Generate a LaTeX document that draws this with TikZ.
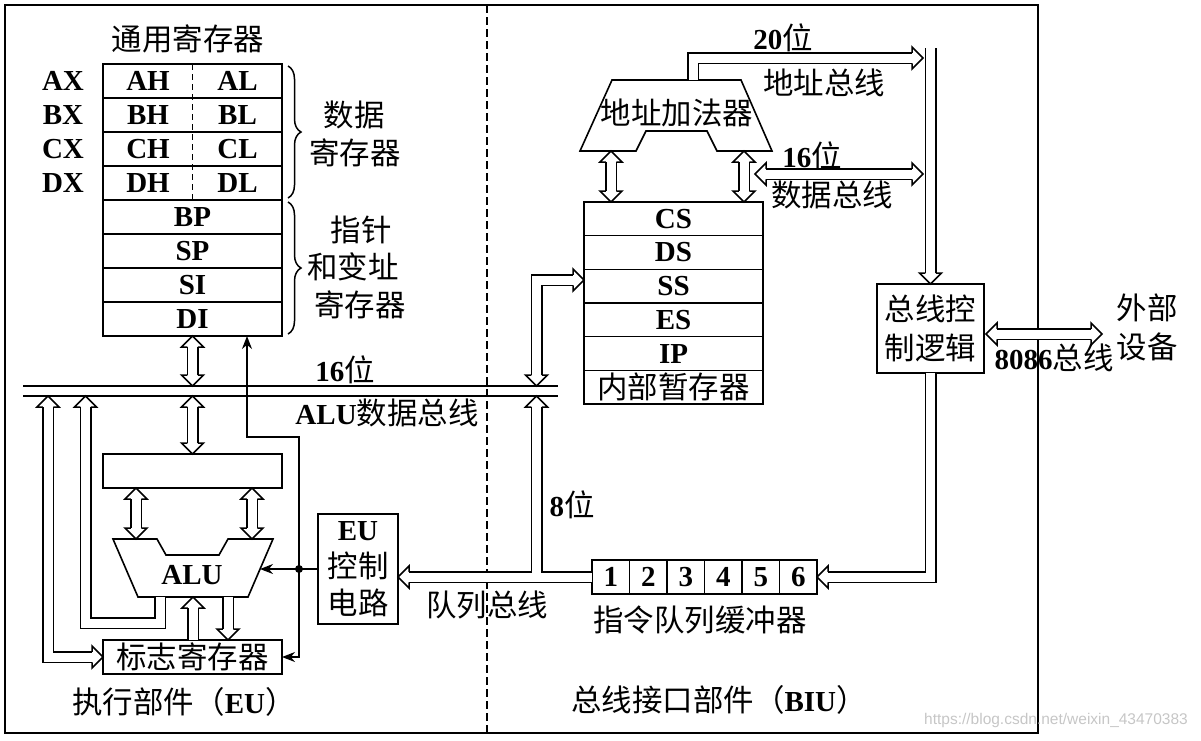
\documentclass[tikz,border=0pt]{standalone}
\usepackage{fontspec}
\setmainfont{Liberation Serif}
\newfontfamily\cjk[Scale=1.05]{Noto Sans CJK SC}
\newfontfamily\wmfont{Liberation Sans}
\usetikzlibrary{arrows.meta,decorations.pathreplacing,calc}
\newcommand{\fs}{\fontsize{29}{37}\selectfont}
\newcommand{\myzh}[1]{{\cjk\mdseries #1}}
\newcommand{\myen}[1]{{\bfseries #1}}
\newcommand{\fatboth}[4]{%
  \draw[pipe, shorten <=11pt, shorten >=11pt] #1 -- #2;
  \pic[rotate=#3] at #1 {fathead};
  \pic[rotate=#4] at #2 {fathead};}
\begin{document}
\begin{tikzpicture}[x=1pt,y=-1pt,
  every node/.style={font=\fs, inner sep=0pt, outer sep=0pt},
  box/.style={draw, line width=1.6pt},
  reg/.style={box, minimum width=179pt, minimum height=34pt},
  pipe/.style={draw, double=white, double distance=9pt, line width=1.5pt, line join=miter},
  thinarrow/.style={line width=1.5pt, -{Stealth[length=13pt,width=10pt]}},
  fathead/.pic={\draw[line width=1.5pt, line join=miter] (-11,5.25) -- (-11,11) -- (0,0) -- (-11,-11) -- (-11,-5.25);},
]
\useasboundingbox (0,0) rectangle (1201,740);
% frame and divider
\draw[line width=1.3pt] (5,5) rectangle (1038,733);
\draw[line width=1.3pt, dash pattern=on 8pt off 4pt] (487,5) -- (487,733);

% ===== EU =====
\node (gtitle) at (188,39) {\myzh{通用寄存器}};
\node[reg] (ax) at (192.5,81) {};
\node[reg] (bx) at (192.5,115) {};
\node[reg] (cx) at (192.5,149) {};
\node[reg] (dx) at (192.5,183) {};
\node[reg] (bp) at (192.5,217) {\myen{BP}};
\node[reg] (sp) at (192.5,251) {\myen{SP}};
\node[reg] (si) at (192.5,285) {\myen{SI}};
\node[reg] (di) at (192.5,319) {\myen{DI}};
\draw[line width=1.3pt, dash pattern=on 6pt off 4pt] (ax.north) -- (dx.south);
\node (ah) at (148,81) {\myen{AH}};  \node (al) at (237.5,81) {\myen{AL}};
\node (bh) at (148,115) {\myen{BH}}; \node (bl) at (237.5,115) {\myen{BL}};
\node (ch) at (148,149) {\myen{CH}}; \node (cl) at (237.5,149) {\myen{CL}};
\node (dh) at (148,183) {\myen{DH}}; \node (dl) at (237.5,183) {\myen{DL}};
\node (axl) at (63,81) {\myen{AX}};
\node (bxl) at (63,115) {\myen{BX}};
\node (cxl) at (63,149) {\myen{CX}};
\node (dxl) at (63,183) {\myen{DX}};
\draw[line width=1.5pt, decorate, decoration={brace, amplitude=13pt}] (288,66) -- (288,198);
\draw[line width=1.5pt, decorate, decoration={brace, amplitude=13pt}] (288,202) -- (288,334);
\node (sj1) at (354,115) {\myzh{数据}};
\node (sj2) at (355,153) {\myzh{寄存器}};
\node (zz1) at (361,230) {\myzh{指针}};
\node (zz2) at (353,267) {\myzh{和变址}};
\node (zz3) at (360,305) {\myzh{寄存器}};

% ALU bus
\coordinate (busL1) at (23,386); \coordinate (busR1) at (558,386);
\coordinate (busL2) at (23,396); \coordinate (busR2) at (558,396);
\draw[line width=1.5pt] (busL1) -- (busR1);
\draw[line width=1.5pt] (busL2) -- (busR2);
\node (b16) at (345,370) {\myen{16}\myzh{位}};
\node (alubus) at (387,413) {\myen{ALU}\myzh{数据总线}};

\node[reg] (tmpr) at (192.5,471) {};
\draw[box, line join=miter] (113,539) -- (157,539) -- (166,555) -- (219,555) -- (228,539) -- (273,539) -- (248,597) -- (138,597) -- cycle;
\node (alu) at (192,575) {\myen{ALU}};
\node[reg] (flag) at (192.5,657) {\myzh{标志寄存器}};
\node[box, minimum width=80pt, minimum height=110pt, align=center] (euc) at (358,569) {\myen{EU}\\\myzh{控制}\\\myzh{电路}};

\fatboth{(di.south)}{(192.5,386)}{90}{270}
\fatboth{(192.5,396)}{(tmpr.north)}{90}{270}
\fatboth{(136,488)}{(136,539)}{90}{270}
\fatboth{(252,488)}{(252,539)}{90}{270}
\draw[pipe, shorten >=11pt] (193,640) -- (193,597); \pic[rotate=90] at (193,597) {fathead};
\draw[pipe, shorten >=11pt] (228,597) -- (228,640); \pic[rotate=270] at (228,640) {fathead};
\draw[pipe, shorten >=11pt] (160,597) -- (160,623) -- (85.5,623) -- (85.5,396); \pic[rotate=90] at (85.5,396) {fathead};
\draw[pipe, shorten <=11pt, shorten >=11pt] (48,396) -- (48,657) -- (flag.west);
\pic[rotate=90] at (48,396) {fathead};
\pic[rotate=0] at (flag.west) {fathead};

\node[circle, fill, minimum size=8pt] (dot) at (299,569) {};
\draw[line width=1.5pt] (euc.west) -- (dot.center);
\draw[thinarrow] (dot.center) -- (260,569);
\draw[thinarrow] (dot.center) -- (299,437) -- (247,437) -- (247,336);
\draw[thinarrow] (dot.center) -- (299,657) -- (flag.east);

% ===== BIU =====
\draw[box, line join=miter] (612,80) -- (741,80) -- (772,151) -- (717,151) -- (707,131) -- (646,131) -- (636,151) -- (580,151) -- cycle;
\node (adder) at (677,113) {\myzh{地址加法器}};
\node[reg, minimum height=33.67pt] (cs) at (673.5,218.8) {\myen{CS}};
\node[reg, minimum height=33.67pt] (ds) at (673.5,252.5) {\myen{DS}};
\node[reg, minimum height=33.67pt] (ss) at (673.5,286.2) {\myen{SS}};
\node[reg, minimum height=33.67pt] (es) at (673.5,319.8) {\myen{ES}};
\node[reg, minimum height=33.67pt] (ip) at (673.5,353.5) {\myen{IP}};
\node[reg, minimum height=33.67pt] (tmp) at (673.5,387.2) {\myzh{内部暂存器}};
\fatboth{(611,151)}{(611,202)}{90}{270}
\fatboth{(744,151)}{(744,202)}{90}{270}

\draw[pipe, shorten >=11pt] (693,80) -- (693,58) -- (923,58); \pic[rotate=0] at (923,58) {fathead};
\fatboth{(755,174)}{(923,174)}{180}{0}
\node (a20) at (783,38) {\myen{20}\myzh{位}};
\node (addrbus) at (824,83) {\myzh{地址总线}};
\node (d16) at (812,156) {\myen{16}\myzh{位}};
\node (databus) at (832,195) {\myzh{数据总线}};

\node[box, minimum width=107pt, minimum height=89pt, align=center, font=\fontsize{29}{39}\selectfont] (bcl) at (930.5,328.5) {\myzh{总线控}\\\myzh{制逻辑}};
\draw[pipe, shorten >=11pt] (930.5,48) -- (bcl.north); \pic[rotate=270] at (bcl.north) {fathead};
\fatboth{(986,334)}{(1102,334)}{180}{0}
\node (wb1) at (1147,308) {\myzh{外部}};
\node (wb2) at (1147,347) {\myzh{设备}};
\node (b8086) at (1054,358) {\myen{8086}\myzh{总线}};

\node[box, minimum width=37.5pt, minimum height=34pt] (q1) at (610.75,577) {\myen{1}};
\node[box, minimum width=37.5pt, minimum height=34pt] (q2) at (648.25,577) {\myen{2}};
\node[box, minimum width=37.5pt, minimum height=34pt] (q3) at (685.75,577) {\myen{3}};
\node[box, minimum width=37.5pt, minimum height=34pt] (q4) at (723.25,577) {\myen{4}};
\node[box, minimum width=37.5pt, minimum height=34pt] (q5) at (760.75,577) {\myen{5}};
\node[box, minimum width=37.5pt, minimum height=34pt] (q6) at (798.25,577) {\myen{6}};
\node (qlab) at (700,620) {\myzh{指令队列缓冲器}};

\draw[pipe, shorten >=11pt] (bcl.south) -- (bcl.south |- q6.east) -- (q6.east); \pic[rotate=180] at (q6.east) {fathead};

% queue bus
\draw[pipe, shorten >=11pt] (q1.west) -- (euc.east |- q1.west); \pic[rotate=180] at (euc.east |- q1.west) {fathead};
\draw[pipe, shorten >=11pt] (536.5,577) -- (536.5,396); \pic[rotate=90] at (536.5,396) {fathead};
\draw[white, line width=9pt] (529,577) -- (544,577);
\draw[pipe, shorten <=11pt, shorten >=11pt] (536.5,386) -- (536.5,280) -- (584,280);
\pic[rotate=270] at (536.5,386) {fathead};
\pic[rotate=0] at (584,280) {fathead};
\node (b8) at (572,505) {\myen{8}\myzh{位}};
\node (qbus) at (487,605) {\myzh{队列总线}};

% bottom labels
\node (eulab) at (184,702) {\myzh{执行部件（}\myen{EU}\myzh{）}};
\node (biulab) at (719,700) {\myzh{总线接口部件（}\myen{BIU}\myzh{）}};
\node[font=\wmfont\fontsize{15.5}{18}\selectfont, text=gray!45] (wm) at (1056,720) {https://blog.csdn.net/weixin\_43470383};
\end{tikzpicture}
\end{document}
